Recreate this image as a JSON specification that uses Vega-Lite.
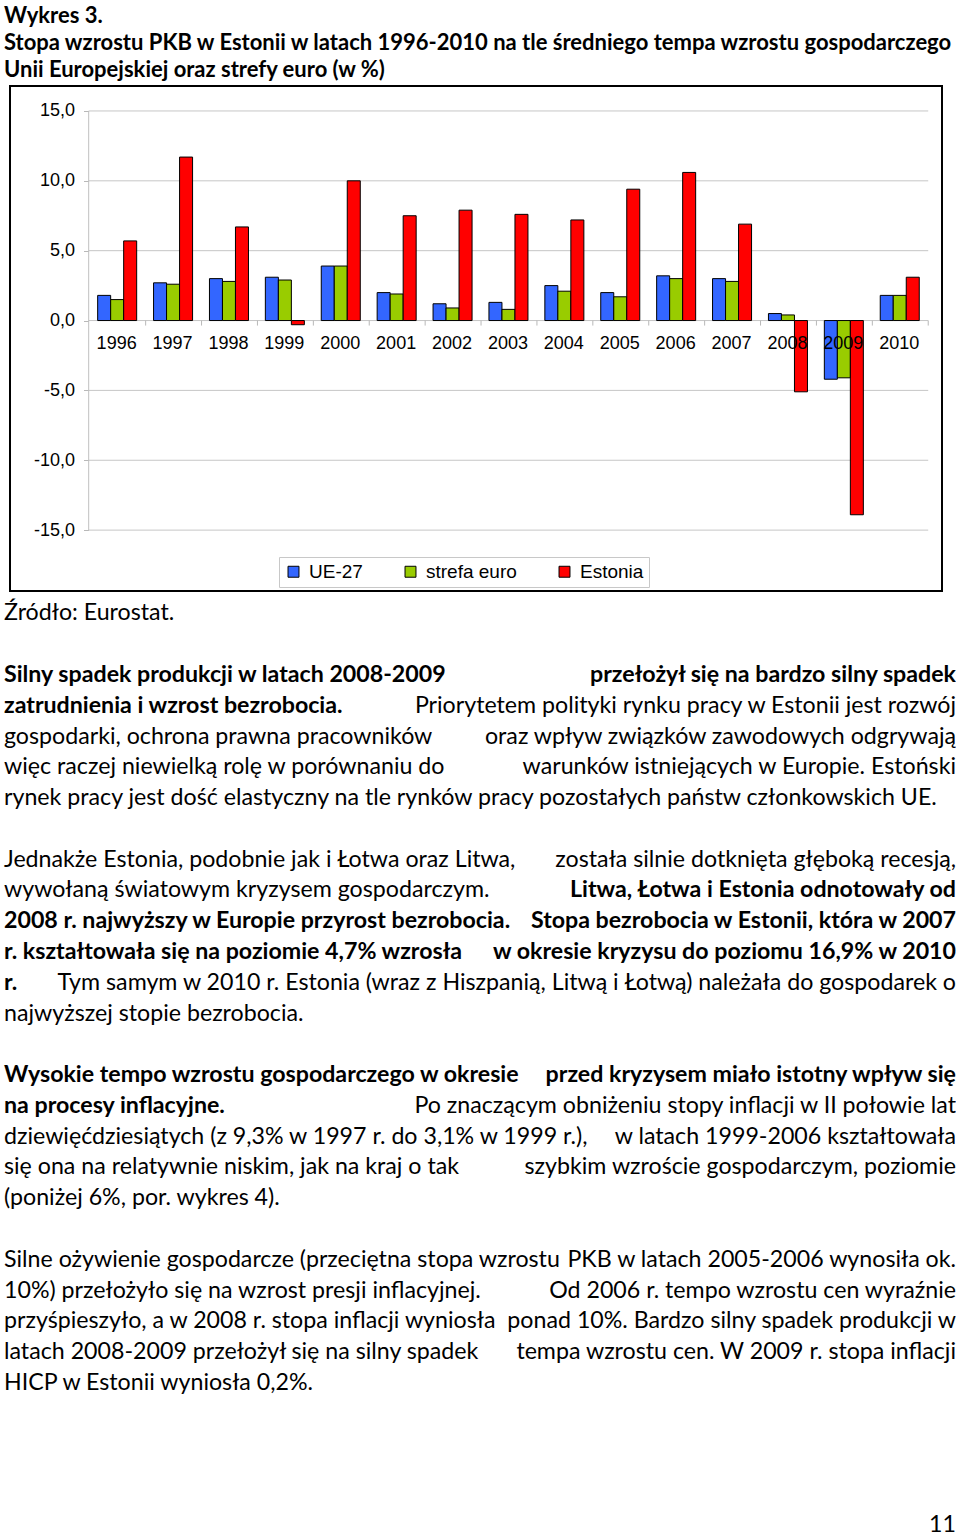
{
  "$schema": "https://vega.github.io/schema/vega-lite/v6.json",
  "background": "white",
  "padding": {"left": 4, "top": 5, "right": 0, "bottom": 0},
  "config": {"view": {"stroke": null}, "font": "Lato"},
  "title": {
    "text": ["Wykres 3.", "Stopa wzrostu PKB w Estonii w latach 1996-2010 na tle średniego tempa wzrostu gospodarczego", "Unii Europejskiej oraz strefy euro (w %)"],
    "anchor": "start", "font": "Lato", "fontSize": 22, "fontWeight": "bold", "lineHeight": 27, "color": "black", "offset": 3, "dx": -6, "frame": "group"
  },
  "datasets": {
    "gdp": [
      {"year": "1996", "series": "UE-27", "value": 1.8}, {"year": "1996", "series": "strefa euro", "value": 1.5}, {"year": "1996", "series": "Estonia", "value": 5.7},
      {"year": "1997", "series": "UE-27", "value": 2.7}, {"year": "1997", "series": "strefa euro", "value": 2.6}, {"year": "1997", "series": "Estonia", "value": 11.7},
      {"year": "1998", "series": "UE-27", "value": 3.0}, {"year": "1998", "series": "strefa euro", "value": 2.8}, {"year": "1998", "series": "Estonia", "value": 6.7},
      {"year": "1999", "series": "UE-27", "value": 3.1}, {"year": "1999", "series": "strefa euro", "value": 2.9}, {"year": "1999", "series": "Estonia", "value": -0.3},
      {"year": "2000", "series": "UE-27", "value": 3.9}, {"year": "2000", "series": "strefa euro", "value": 3.9}, {"year": "2000", "series": "Estonia", "value": 10.0},
      {"year": "2001", "series": "UE-27", "value": 2.0}, {"year": "2001", "series": "strefa euro", "value": 1.9}, {"year": "2001", "series": "Estonia", "value": 7.5},
      {"year": "2002", "series": "UE-27", "value": 1.2}, {"year": "2002", "series": "strefa euro", "value": 0.9}, {"year": "2002", "series": "Estonia", "value": 7.9},
      {"year": "2003", "series": "UE-27", "value": 1.3}, {"year": "2003", "series": "strefa euro", "value": 0.8}, {"year": "2003", "series": "Estonia", "value": 7.6},
      {"year": "2004", "series": "UE-27", "value": 2.5}, {"year": "2004", "series": "strefa euro", "value": 2.1}, {"year": "2004", "series": "Estonia", "value": 7.2},
      {"year": "2005", "series": "UE-27", "value": 2.0}, {"year": "2005", "series": "strefa euro", "value": 1.7}, {"year": "2005", "series": "Estonia", "value": 9.4},
      {"year": "2006", "series": "UE-27", "value": 3.2}, {"year": "2006", "series": "strefa euro", "value": 3.0}, {"year": "2006", "series": "Estonia", "value": 10.6},
      {"year": "2007", "series": "UE-27", "value": 3.0}, {"year": "2007", "series": "strefa euro", "value": 2.8}, {"year": "2007", "series": "Estonia", "value": 6.9},
      {"year": "2008", "series": "UE-27", "value": 0.5}, {"year": "2008", "series": "strefa euro", "value": 0.4}, {"year": "2008", "series": "Estonia", "value": -5.1},
      {"year": "2009", "series": "UE-27", "value": -4.2}, {"year": "2009", "series": "strefa euro", "value": -4.1}, {"year": "2009", "series": "Estonia", "value": -13.9},
      {"year": "2010", "series": "UE-27", "value": 1.8}, {"year": "2010", "series": "strefa euro", "value": 1.8}, {"year": "2010", "series": "Estonia", "value": 3.1}
    ],
    "grid": [{"tick": -15}, {"tick": -10}, {"tick": -5}, {"tick": 0}, {"tick": 5}, {"tick": 10}, {"tick": 15}],
    "lines": [
      {"line": 0, "side": "L", "bold": false, "text": "Źródło: Eurostat."},
      {"line": 2, "side": "L", "bold": true, "text": "Silny spadek produkcji w latach 2008-2009"},
      {"line": 2, "side": "R", "bold": true, "text": "przełożył się na bardzo silny spadek"},
      {"line": 3, "side": "L", "bold": true, "text": "zatrudnienia i wzrost bezrobocia."},
      {"line": 3, "side": "R", "bold": false, "text": "Priorytetem polityki rynku pracy w Estonii jest rozwój"},
      {"line": 4, "side": "L", "bold": false, "text": "gospodarki, ochrona prawna pracowników"},
      {"line": 4, "side": "R", "bold": false, "text": "oraz wpływ związków zawodowych odgrywają"},
      {"line": 5, "side": "L", "bold": false, "text": "więc raczej niewielką rolę w porównaniu do"},
      {"line": 5, "side": "R", "bold": false, "text": "warunków istniejących w Europie. Estoński"},
      {"line": 6, "side": "L", "bold": false, "text": "rynek pracy jest dość elastyczny na tle rynków pracy pozostałych państw członkowskich UE."},
      {"line": 8, "side": "L", "bold": false, "text": "Jednakże Estonia, podobnie jak i Łotwa oraz Litwa,"},
      {"line": 8, "side": "R", "bold": false, "text": "została silnie dotknięta głęboką recesją,"},
      {"line": 9, "side": "L", "bold": false, "text": "wywołaną światowym kryzysem gospodarczym."},
      {"line": 9, "side": "R", "bold": true, "text": "Litwa, Łotwa i Estonia odnotowały od"},
      {"line": 10, "side": "L", "bold": true, "text": "2008 r. najwyższy w Europie przyrost bezrobocia."},
      {"line": 10, "side": "R", "bold": true, "text": "Stopa bezrobocia w Estonii, która w 2007"},
      {"line": 11, "side": "L", "bold": true, "text": "r. kształtowała się na poziomie 4,7% wzrosła"},
      {"line": 11, "side": "R", "bold": true, "text": "w okresie kryzysu do poziomu 16,9% w 2010"},
      {"line": 12, "side": "L", "bold": true, "text": "r."},
      {"line": 12, "side": "R", "bold": false, "text": "Tym samym w 2010 r. Estonia (wraz z Hiszpanią, Litwą i Łotwą) należała do gospodarek o"},
      {"line": 13, "side": "L", "bold": false, "text": "najwyższej stopie bezrobocia."},
      {"line": 15, "side": "L", "bold": true, "text": "Wysokie tempo wzrostu gospodarczego w okresie"},
      {"line": 15, "side": "R", "bold": true, "text": "przed kryzysem miało istotny wpływ się"},
      {"line": 16, "side": "L", "bold": true, "text": "na procesy inflacyjne."},
      {"line": 16, "side": "R", "bold": false, "text": "Po znaczącym obniżeniu stopy inflacji w II połowie lat"},
      {"line": 17, "side": "L", "bold": false, "text": "dziewięćdziesiątych (z 9,3% w 1997 r. do 3,1% w 1999 r.),"},
      {"line": 17, "side": "R", "bold": false, "text": "w latach 1999-2006 kształtowała"},
      {"line": 18, "side": "L", "bold": false, "text": "się ona na relatywnie niskim, jak na kraj o tak"},
      {"line": 18, "side": "R", "bold": false, "text": "szybkim wzroście gospodarczym, poziomie"},
      {"line": 19, "side": "L", "bold": false, "text": "(poniżej 6%, por. wykres 4)."},
      {"line": 21, "side": "L", "bold": false, "text": "Silne ożywienie gospodarcze (przeciętna stopa wzrostu"},
      {"line": 21, "side": "R", "bold": false, "text": "PKB w latach 2005-2006 wynosiła ok."},
      {"line": 22, "side": "L", "bold": false, "text": "10%) przełożyło się na wzrost presji inflacyjnej."},
      {"line": 22, "side": "R", "bold": false, "text": "Od 2006 r. tempo wzrostu cen wyraźnie"},
      {"line": 23, "side": "L", "bold": false, "text": "przyśpieszyło, a w 2008 r. stopa inflacji wyniosła"},
      {"line": 23, "side": "R", "bold": false, "text": "ponad 10%. Bardzo silny spadek produkcji w"},
      {"line": 24, "side": "L", "bold": false, "text": "latach 2008-2009 przełożył się na silny spadek"},
      {"line": 24, "side": "R", "bold": false, "text": "tempa wzrostu cen. W 2009 r. stopa inflacji"},
      {"line": 25, "side": "L", "bold": false, "text": "HICP w Estonii wyniosła 0,2%."}
    ],
    "page": [{"line": 30, "side": "R", "text": "11"}]
  },
  "spacing": 6,
  "vconcat": [
    {
      "width": 932,
      "height": 505,
      "view": {"stroke": "black", "strokeWidth": 2},
      "layer": [
        {
          "data": {"name": "grid"},
          "mark": {"type": "rule", "color": "#c6c6c6", "strokeWidth": 1},
          "encoding": {
            "y": {"field": "tick", "type": "quantitative"},
            "x": {"datum": "1996", "bandPosition": -0.23},
            "x2": {"datum": "2010", "bandPosition": 1.23}
          }
        },
        {
          "data": {"name": "gdp"},
          "transform": [{"filter": "datum.series == 'UE-27'"}],
          "mark": {"type": "rule", "color": "#b8b8b8", "strokeWidth": 1},
          "encoding": {
            "x": {"field": "year", "type": "nominal", "bandPosition": 1.23},
            "y": {"datum": 0},
            "y2": {"datum": -0.36}
          }
        },
        {
          "data": {"name": "gdp"},
          "mark": {"type": "bar", "stroke": "black", "strokeWidth": 1},
          "encoding": {
            "x": {
              "field": "year", "type": "nominal",
              "scale": {"paddingInner": 0.302, "paddingOuter": 0.9875, "align": 0.794},
              "axis": {"orient": "bottom", "offset": -270, "zindex": 1, "domain": false, "ticks": false, "labelOffset": 19.5, "labelAngle": 0, "labelFont": "Liberation Sans", "labelFontSize": 18, "labelColor": "black", "labelPadding": 22, "title": null}
            },
            "xOffset": {"field": "series", "type": "nominal", "sort": ["UE-27", "strefa euro", "Estonia"], "scale": {"paddingInner": 0, "paddingOuter": 0}},
            "y": {
              "field": "value", "type": "quantitative",
              "scale": {"domain": [-19.357, 16.786], "nice": false, "zero": false},
              "axis": {"values": [-15, -10, -5, 0, 5, 10, 15], "offset": -78.5, "domain": false, "grid": false, "ticks": true, "tickSize": 5, "tickColor": "#b8b8b8", "labelFont": "Liberation Sans", "labelFontSize": 18, "labelColor": "black", "labelPadding": 9, "labelExpr": "replace(replace(format(datum.value, '.1f'), '.', ','), '−', '-')", "title": null}
            },
            "color": {
              "field": "series", "type": "nominal",
              "scale": {"domain": ["UE-27", "strefa euro", "Estonia"], "range": ["#3366FF", "#99CC00", "#FF0000"]},
              "legend": {"orient": "none", "legendX": 269, "legendY": 471, "direction": "horizontal", "title": null, "symbolType": "square", "symbolSize": 120, "symbolStrokeColor": "black", "symbolStrokeWidth": 1, "labelFont": "Liberation Sans", "labelFontSize": 19, "labelColor": "black", "labelOffset": 6, "columnPadding": 38, "padding": 5, "strokeColor": "#c8c8c8", "fillColor": "white"}
            }
          }
        },
        {
          "data": {"values": [{"lo": -15, "hi": 15}]},
          "mark": {"type": "rule", "color": "#c0c0c0", "strokeWidth": 1},
          "encoding": {
            "x": {"datum": "1996", "bandPosition": -0.23},
            "y": {"field": "lo", "type": "quantitative"},
            "y2": {"field": "hi"}
          }
        }
      ]
    },
    {
      "width": 946,
      "height": 938.8,
      "encoding": {
        "x": {"field": "side", "type": "nominal", "scale": {"type": "point", "domain": ["L", "R"], "padding": 0}, "axis": null},
        "y": {"field": "line", "type": "quantitative", "scale": {"domain": [-0.5, 30], "reverse": true, "nice": false, "zero": false}, "axis": null},
        "text": {"field": "text"}
      },
      "layer": [
        {"data": {"name": "lines"}, "transform": [{"filter": "datum.side == 'L' && !datum.bold"}], "mark": {"type": "text", "align": "left", "baseline": "middle", "font": "Lato", "fontSize": 23.2, "color": "black", "dx": -6}},
        {"data": {"name": "lines"}, "transform": [{"filter": "datum.side == 'L' && datum.bold"}], "mark": {"type": "text", "align": "left", "baseline": "middle", "font": "Lato", "fontSize": 23.2, "fontWeight": "bold", "color": "black", "dx": -6}},
        {"data": {"name": "lines"}, "transform": [{"filter": "datum.side == 'R' && !datum.bold"}], "mark": {"type": "text", "align": "right", "baseline": "middle", "font": "Lato", "fontSize": 23.2, "color": "black"}},
        {"data": {"name": "lines"}, "transform": [{"filter": "datum.side == 'R' && datum.bold"}], "mark": {"type": "text", "align": "right", "baseline": "middle", "font": "Lato", "fontSize": 23.2, "fontWeight": "bold", "color": "black"}},
        {"data": {"name": "page"}, "mark": {"type": "text", "align": "right", "baseline": "bottom", "font": "Lato", "fontSize": 23.2, "color": "black"}}
      ]
    }
  ]
}
